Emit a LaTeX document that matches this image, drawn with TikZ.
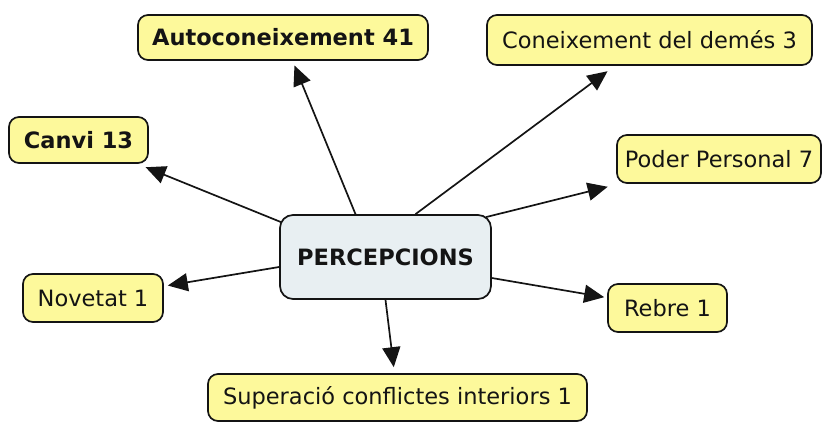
\documentclass[tikz,border=0pt]{standalone}
\usepackage{fontspec}
\setmainfont{DejaVu Sans}
\usetikzlibrary{arrows.meta,backgrounds}
\definecolor{leaf}{RGB}{253,249,155}
\definecolor{hub}{RGB}{232,239,242}
\definecolor{ink}{RGB}{20,20,20}
\tikzset{
  concept/.style={draw=ink, line width=1.7pt, rounded corners=10pt, fill=leaf,
    inner sep=0pt, font=\fontsize{22.5}{26}\selectfont, text=ink},
  hubbox/.style={concept, fill=hub, rounded corners=13pt, font=\fontsize{22.5}{26}\selectfont\bfseries},
  link/.style={draw=ink, line width=1.7pt, -{Triangle[length=20pt,width=18pt]}},
}
\begin{document}
\begin{tikzpicture}[x=1pt,y=-1pt]
\useasboundingbox (0,0) rectangle (823,423);

\node[hubbox, minimum width=211pt, minimum height=84pt] (c) at (385.5,257) {PERCEPCIONS};

\node[concept, font=\fontsize{22.5}{26}\selectfont\bfseries, minimum width=290pt, minimum height=45pt] (auto) at (283,37.5) {Autoconeixement 41};
\node[concept, minimum width=325pt, minimum height=50pt] (altres) at (649.5,40) {Coneixement del demés 3};
\node[concept, font=\fontsize{22.5}{26}\selectfont\bfseries, minimum width=139pt, minimum height=46pt] (canvi) at (78.5,140) {Canvi 13};
\node[concept, minimum width=204pt, minimum height=48pt] (poder) at (719,159) {Poder Personal 7};
\node[concept, minimum width=140pt, minimum height=48pt] (novetat) at (93,298) {Novetat 1};
\node[concept, minimum width=119pt, minimum height=48pt] (rebre) at (667.5,308) {Rebre 1};
\node[concept, minimum width=379pt, minimum height=47pt] (super) at (397.5,397.5) {Superació conflictes interiors 1};

\begin{pgfonlayer}{background}
\draw[link, shorten >=5pt] ([xshift=-30pt]c.north) -- (auto);
\draw[link, shorten >=9pt] ([xshift=30pt]c.north) -- (altres);
\draw[link, shorten >=9pt] ([xshift=2pt,yshift=-8pt]c.north west) -- (canvi);
\draw[link, shorten >=12pt] ([xshift=-6pt,yshift=-3pt]c.north east) -- (poder);
\draw[link, shorten >=4pt] ([yshift=-10pt]c.west) -- (novetat);
\draw[link, shorten >=3pt] ([yshift=-21pt]c.east) -- (rebre);
\draw[link, shorten >=6pt] (c.south) -- (super);
\end{pgfonlayer}
\end{tikzpicture}
\end{document}
